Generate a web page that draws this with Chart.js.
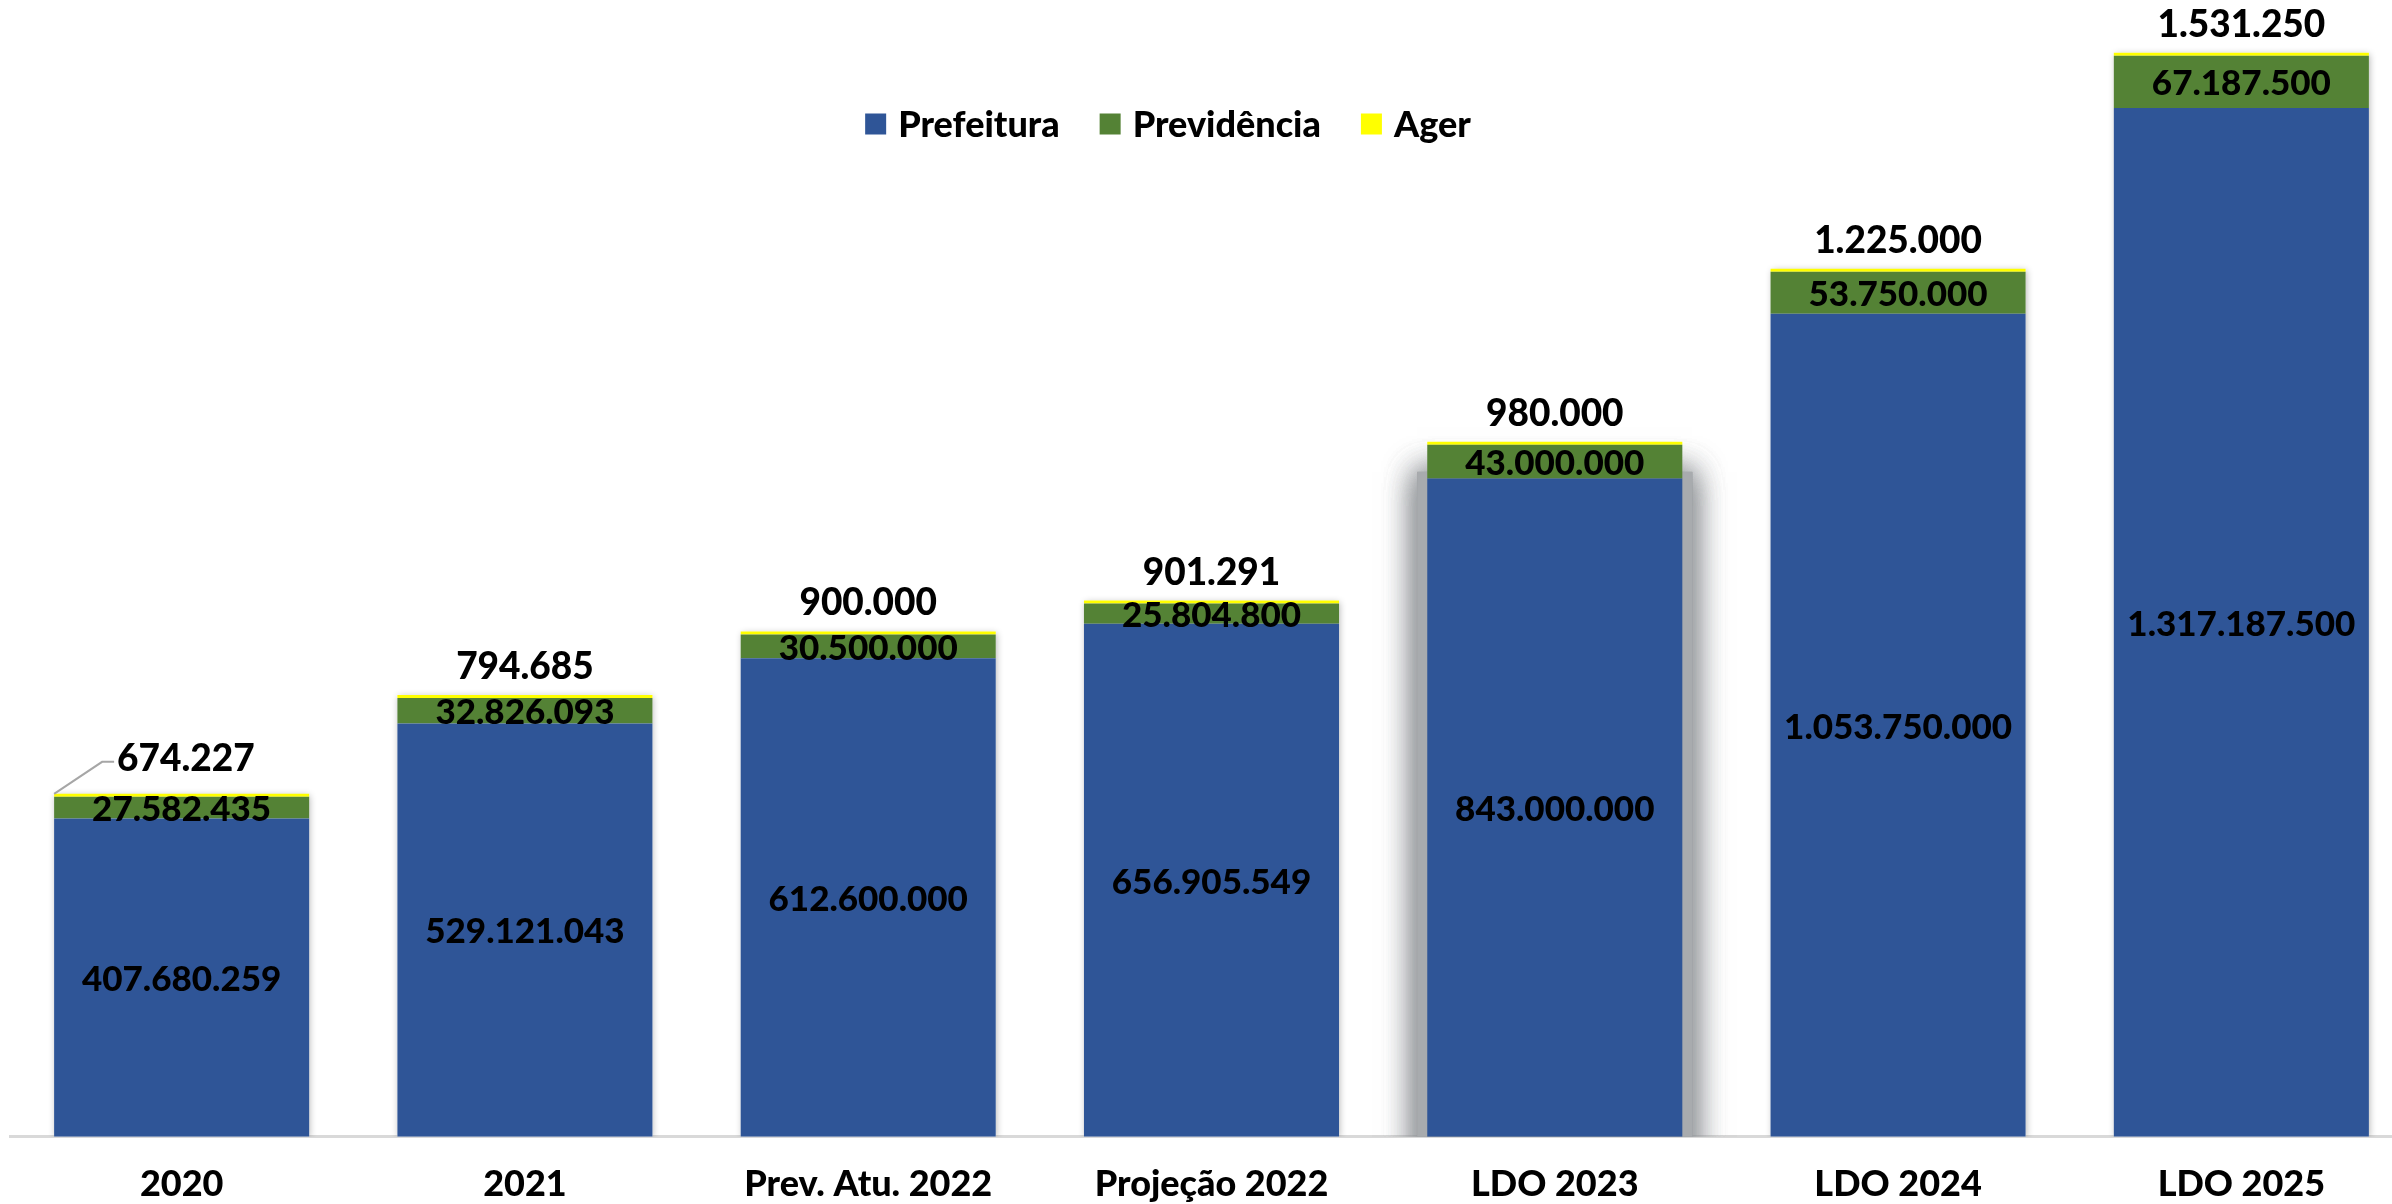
<!DOCTYPE html>
<html>
<head>
<meta charset="utf-8">
<script src="https://cdn.jsdelivr.net/npm/chart.js@4.4.0/dist/chart.umd.min.js"></script>
<style>
  html, body { margin: 0; padding: 0; background: #fff; overflow: hidden; }
</style>
</head>
<body>
<canvas id="myChart" width="2415" height="1233"></canvas>
<script>
const categories = ['2020', '2021', 'Prev. Atu. 2022', 'Projeção 2022', 'LDO 2023', 'LDO 2024', 'LDO 2025'];
const prefeitura = [407680259, 529121043, 612600000, 656905549, 843000000, 1053750000, 1317187500];
const previdencia = [27582435, 32826093, 30500000, 25804800, 43000000, 53750000, 67187500];
const ager = [674227, 794685, 900000, 901291, 980000, 1225000, 1531250];
const seriesNames = ['Prefeitura', 'Previdência', 'Ager'];
const seriesColors = ['#2F5597', '#548235', '#FFFF00'];

const family = 'Lato, "Liberation Sans", sans-serif';
const fmt = v => String(v).replace(/\B(?=(\d{3})+(?!\d))/g, '.');

// sombras atrás das colunas (a de LDO 2023 é bem mais forte)
const shadowPlugin = {
  id: 'barShadows',
  beforeDatasetsDraw(chart) {
    const { ctx, chartArea } = chart;
    const bases = chart.getDatasetMeta(0).data;
    const tops = chart.getDatasetMeta(2).data;
    ctx.save();
    ctx.beginPath();
    ctx.rect(chartArea.left, 0, chartArea.width, chartArea.bottom);
    ctx.clip();
    bases.forEach((b, i) => {
      const t = tops[i];
      const x = b.x - b.width / 2, w = b.width, y = t.y, h = b.base - t.y;
      ctx.save();
      if (i === 4) {
        ctx.shadowColor = 'rgba(140,144,148,0.8)';
        ctx.shadowBlur = 30;
        ctx.fillStyle = '#a8abae';
        for (let k = 0; k < 3; k++) {
          ctx.fillRect(x - 10, y + 30, w + 20, h + 10);
        }
      } else {
        ctx.shadowColor = 'rgba(0,0,0,0.3)';
        ctx.shadowBlur = 7;
        ctx.shadowOffsetX = 1;
        ctx.shadowOffsetY = 1;
        ctx.fillStyle = '#fff';
        ctx.fillRect(x, y, w, h);
      }
      ctx.restore();
    });
    ctx.restore();
  }
};

// rótulos de valores
const labelPlugin = {
  id: 'valueLabels',
  afterDatasetsDraw(chart) {
    const ctx = chart.ctx;
    ctx.save();
    ctx.fillStyle = '#000';
    ctx.textAlign = 'center';
    ctx.textBaseline = 'middle';
    ctx.font = '900 35px ' + family;
    [0, 1].forEach(di => {
      chart.getDatasetMeta(di).data.forEach((bar, i) => {
        const v = chart.data.datasets[di].data[i];
        ctx.fillText(fmt(v), bar.x, (bar.y + bar.base) / 2 + 2);
      });
    });
    ctx.font = '900 37px ' + family;
    chart.getDatasetMeta(2).data.forEach((bar, i) => {
      const v = chart.data.datasets[2].data[i];
      if (i === 0) {
        const left = bar.x - bar.width / 2;
        ctx.strokeStyle = '#a6a6a6';
        ctx.lineWidth = 2;
        ctx.beginPath();
        ctx.moveTo(left, bar.y);
        ctx.lineTo(left + 48, bar.y - 32);
        ctx.lineTo(left + 60, bar.y - 32);
        ctx.stroke();
        ctx.textAlign = 'left';
        ctx.fillText(fmt(v), left + 63, bar.y - 35);
        ctx.textAlign = 'center';
      } else {
        ctx.fillText(fmt(v), bar.x, bar.y - 28);
      }
    });
    ctx.restore();
  }
};

// legenda desenhada dentro da área do gráfico
const legendPlugin = {
  id: 'insideLegend',
  afterDraw(chart) {
    const ctx = chart.ctx;
    const box = 21, gap = 12, spacing = 40, cx = 1168, cy = 124;
    ctx.save();
    ctx.font = '900 36px ' + family;
    const widths = seriesNames.map(n => ctx.measureText(n).width);
    const total = widths.reduce((a, w) => a + box + gap + w, 0) + spacing * (seriesNames.length - 1);
    let x = cx - total / 2;
    ctx.textBaseline = 'middle';
    ctx.textAlign = 'left';
    seriesNames.forEach((n, i) => {
      ctx.fillStyle = seriesColors[i];
      ctx.fillRect(x, cy - box / 2, box, box);
      ctx.fillStyle = '#000';
      ctx.fillText(n, x + box + gap, cy + 1);
      x += box + gap + widths[i] + spacing;
    });
    ctx.restore();
  }
};

const ctx1 = document.getElementById('myChart').getContext('2d');
new Chart(ctx1, {
  type: 'bar',
  data: {
    labels: categories,
    datasets: [
      { label: seriesNames[0], data: prefeitura, backgroundColor: seriesColors[0] },
      { label: seriesNames[1], data: previdencia, backgroundColor: seriesColors[1] },
      { label: seriesNames[2], data: ager, backgroundColor: seriesColors[2], minBarLength: 3 }
    ]
  },
  options: {
    responsive: false,
    animation: false,
    layout: { padding: { left: 10, right: 2, top: 20, bottom: 1 } },
    datasets: { bar: { categoryPercentage: 1, barPercentage: 0.743, borderWidth: 0 } },
    scales: {
      x: {
        stacked: true,
        grid: { display: false, drawTicks: false },
        border: { display: true, color: '#d9d9d9', width: 3 },
        ticks: { color: '#000', font: { family: family, size: 36, weight: '900' }, padding: 26, maxRotation: 0, autoSkip: false }
      },
      y: { stacked: true, display: false, min: 0, max: 1430000000 }
    },
    plugins: { legend: { display: false }, tooltip: { enabled: false } }
  },
  plugins: [shadowPlugin, labelPlugin, legendPlugin]
});
</script>
</body>
</html>
